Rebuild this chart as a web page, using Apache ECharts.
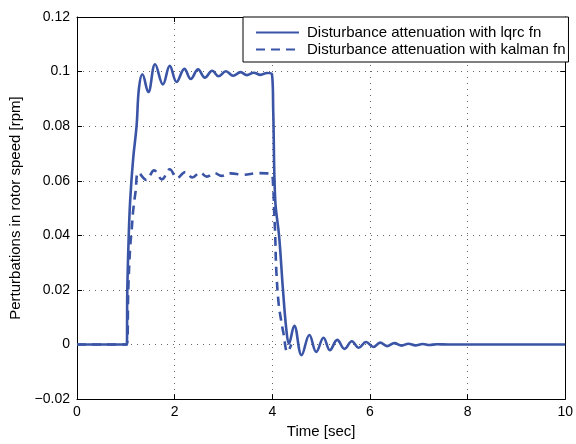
<!DOCTYPE html>
<html>
<head>
<meta charset="utf-8">
<script src="https://cdn.jsdelivr.net/npm/echarts@6/dist/echarts.min.js"></script>
<style>
html,body{margin:0;padding:0;background:#fff;}
#chart{width:576px;height:444px;}
</style>
</head>
<body>
<div id="chart"></div>
<script>
// ---- data ----
var seriesNames = ['Disturbance attenuation with lqrc fn', 'Disturbance attenuation with kalman fn'];
var xTicks = [0, 2, 4, 6, 8, 10];
var yTicks = [-0.02, 0, 0.02, 0.04, 0.06, 0.08, 0.1, 0.12];

var tSolid = [0, 1.02, 1.03, 1.06, 1.09, 1.15, 1.22, 1.27, 1.34, 1.46, 1.60, 1.76, 1.90, 2.04, 2.20, 2.33, 2.48, 2.62, 2.77, 2.90, 3.05, 3.20, 3.35, 3.48, 3.62, 3.76, 3.89, 3.99, 4.02, 4.06, 4.14, 4.22, 4.29, 4.34, 4.45, 4.60, 4.76, 4.90, 5.05, 5.18, 5.33, 5.48, 5.63, 5.77, 5.92, 6.07, 6.21, 6.35, 6.50, 6.65, 6.79, 6.93, 7.08, 7.22, 7.37, 7.6, 8.0, 10];
var vSolid = [0, 0, 0.0195, 0.040, 0.053, 0.068, 0.080, 0.094, 0.099, 0.0925, 0.1027, 0.0953, 0.1021, 0.0962, 0.1010, 0.0973, 0.1008, 0.0978, 0.1003, 0.0983, 0.1001, 0.0985, 0.0998, 0.0987, 0.0996, 0.0988, 0.0995, 0.0992, 0.085, 0.053, 0.0397, 0.0198, 0.0051, 0.0003, 0.0069, -0.0039, 0.0035, -0.0027, 0.0025, -0.0021, 0.0017, -0.0016, 0.0012, -0.0012, 0.0009, -0.0009, 0.0007, -0.0006, 0.0005, -0.0004, 0.0003, -0.0003, 0.0002, -0.0002, 0.0001, 0, 0, 0];

var tDash = [0, 1.02, 1.05, 1.09, 1.12, 1.15, 1.20, 1.26, 1.42, 1.58, 1.74, 1.90, 2.05, 2.22, 2.36, 2.52, 2.66, 2.82, 2.96, 3.15, 3.4, 3.7, 3.98, 4.02, 4.04, 4.06, 4.08, 4.13, 4.18, 4.23, 4.31, 4.39];
var vDash = [0, 0, 0.020, 0.036, 0.042, 0.049, 0.056, 0.063, 0.0603, 0.0638, 0.0605, 0.0642, 0.0610, 0.0632, 0.0612, 0.0630, 0.0615, 0.0628, 0.0618, 0.0627, 0.0622, 0.0628, 0.0624, 0.057, 0.048, 0.040, 0.028, 0.015, 0.009, 0.004, -0.0027, 0];

function pairs(t, v) { return t.map(function (x, i) { return [x, v[i]]; }); }

var FONT = 'Liberation Sans';
var BLUE = '#3A54A6';
var chart = echarts.init(document.getElementById('chart'), null, { renderer: 'canvas' });

function yFmt(v) {
  var s = String(Math.round(v * 1000) / 1000);
  return s.replace('-', '\u2212');
}

var gridLine = { show: true, lineStyle: { color: '#666', type: [1, 5], width: 1 } };

var option = {
  animation: false,
  backgroundColor: '#fff',
  textStyle: { fontFamily: FONT },
  grid: { left: 77, right: 10, top: 17, bottom: 40, containLabel: false },
  legend: {
    orient: 'vertical',
    left: 243,
    top: 17,
    padding: [8, 3, 5, 12],
    itemWidth: 43,
    itemHeight: 15,
    itemGap: 2,
    borderColor: '#000',
    borderWidth: 1,
    borderRadius: 0,
    backgroundColor: '#fff',
    itemStyle: { color: 'rgba(0,0,0,0)', borderWidth: 0, opacity: 0 },
    textStyle: { fontFamily: FONT, fontSize: 15, color: '#000', padding: [0, 0, 0, 3] },
    data: seriesNames
  },
  xAxis: [{
    type: 'value', min: 0, max: 10, interval: 2, position: 'bottom',
    name: 'Time [sec]', nameLocation: 'middle', nameGap: 21,
    nameTextStyle: { fontFamily: FONT, fontSize: 15, color: '#000' },
    axisLine: { show: true, onZero: false, lineStyle: { color: '#000', width: 1 } },
    axisTick: { show: true, inside: true, length: 5, lineStyle: { color: '#000' } },
    axisLabel: { fontFamily: FONT, fontSize: 14, color: '#000', margin: 6, formatter: function (v) { return xTicks.indexOf(v) >= 0 ? String(v) : ''; } },
    splitLine: gridLine
  }, {
    type: 'value', min: 0, max: 10, interval: 2, position: 'top',
    axisLine: { show: true, onZero: false, lineStyle: { color: '#000', width: 1 } },
    axisTick: { show: true, inside: true, length: 5, lineStyle: { color: '#000' } },
    axisLabel: { show: false }, splitLine: { show: false }
  }],
  yAxis: [{
    type: 'value', min: -0.02, max: 0.12, interval: 0.02, position: 'left',
    name: 'Perturbations in rotor speed [rpm]', nameLocation: 'middle', nameGap: 50,
    nameTextStyle: { fontFamily: FONT, fontSize: 15, color: '#000' },
    axisLine: { show: true, onZero: false, lineStyle: { color: '#000', width: 1 } },
    axisTick: { show: true, inside: true, length: 5, lineStyle: { color: '#000' } },
    axisLabel: { fontFamily: FONT, fontSize: 14, color: '#000', margin: 7, formatter: yFmt },
    splitLine: gridLine
  }, {
    type: 'value', min: -0.02, max: 0.12, interval: 0.02, position: 'right',
    axisLine: { show: true, onZero: false, lineStyle: { color: '#000', width: 1 } },
    axisTick: { show: true, inside: true, length: 5, lineStyle: { color: '#000' } },
    axisLabel: { show: false }, splitLine: { show: false }
  }],
  series: [{
    name: seriesNames[1], type: 'line', xAxisIndex: 0, yAxisIndex: 0,
    data: pairs(tDash, vDash), showSymbol: false, symbol: 'none', smooth: 0.4,
    lineStyle: { color: BLUE, width: 2.6, type: [9, 6] }, itemStyle: { color: BLUE }, z: 3
  }, {
    name: seriesNames[0], type: 'line', xAxisIndex: 0, yAxisIndex: 0,
    data: pairs(tSolid, vSolid), showSymbol: false, symbol: 'none', smooth: 0.4,
    lineStyle: { color: BLUE, width: 2.6, type: 'solid' }, itemStyle: { color: BLUE }, z: 4
  }]
};
chart.setOption(option);
</script>
</body>
</html>
